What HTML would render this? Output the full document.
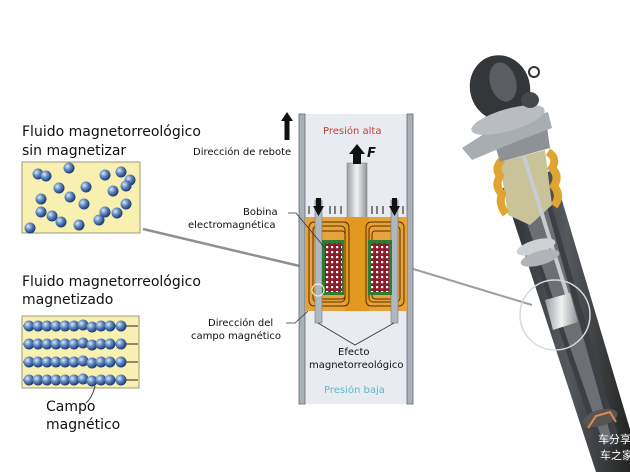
<!DOCTYPE html>
<html><head><meta charset="utf-8"><style>
html,body{margin:0;padding:0;background:#fff}
body{width:630px;height:472px;overflow:hidden;position:relative;font-family:"DejaVu Sans","Liberation Sans",sans-serif}
.t{position:absolute;white-space:nowrap;color:#111}
.big{font-size:14px;line-height:17px}
.sm{font-size:10px;line-height:13px}
</style></head><body>
<svg width="630" height="472" style="position:absolute;left:0;top:0">
<defs>
<radialGradient id="ball" cx="35%" cy="35%" r="65%"><stop offset="0" stop-color="#dfe9f7"/><stop offset="0.5" stop-color="#5d86c0"/><stop offset="1" stop-color="#1d3d70"/></radialGradient>
<pattern id="chk" width="5" height="5" patternUnits="userSpaceOnUse"><rect width="5" height="5" fill="#8a1c2c"/><rect x="1" y="1" width="2.2" height="2.2" fill="#fff"/></pattern>
<linearGradient id="tube" x1="0" y1="0" x2="1" y2="0"><stop offset="0" stop-color="#2b2e31"/><stop offset="0.5" stop-color="#55595d"/><stop offset="1" stop-color="#222"/></linearGradient>
<linearGradient id="cyl" x1="0" y1="0" x2="1" y2="0"><stop offset="0" stop-color="#9a9ea2"/><stop offset="0.5" stop-color="#f2f2f2"/><stop offset="1" stop-color="#8f9296"/></linearGradient>
</defs>
<line x1="143" y1="229" x2="308" y2="268" stroke="#8a9096" stroke-width="2.5"/>
<line x1="410" y1="268" x2="532" y2="305" stroke="#9aa0a6" stroke-width="2"/>
<rect x="22" y="162" width="118" height="71" fill="#f8f0b0" stroke="#9a9a7a"/>
<g fill="url(#ball)">
<circle cx="38" cy="174" r="5.5"/><circle cx="46" cy="176" r="5.5"/><circle cx="69" cy="168" r="5.5"/><circle cx="105" cy="175" r="5.5"/><circle cx="121" cy="172" r="5.5"/><circle cx="130" cy="180" r="5.5"/><circle cx="126" cy="186" r="5.5"/>
<circle cx="59" cy="188" r="5.5"/><circle cx="86" cy="187" r="5.5"/><circle cx="113" cy="191" r="5.5"/><circle cx="70" cy="197" r="5.5"/><circle cx="41" cy="199" r="5.5"/><circle cx="84" cy="204" r="5.5"/><circle cx="126" cy="204" r="5.5"/>
<circle cx="41" cy="212" r="5.5"/><circle cx="52" cy="216" r="5.5"/><circle cx="61" cy="222" r="5.5"/><circle cx="105" cy="212" r="5.5"/><circle cx="117" cy="213" r="5.5"/><circle cx="99" cy="220" r="5.5"/><circle cx="79" cy="225" r="5.5"/><circle cx="30" cy="228" r="5.5"/>
</g>
<rect x="22" y="316" width="117" height="72" fill="#f8f0b0" stroke="#9a9a7a"/>
<g stroke="#222" stroke-width="1">
<line x1="23" y1="326" x2="138" y2="326"/><line x1="23" y1="344" x2="138" y2="344"/><line x1="23" y1="362" x2="138" y2="362"/><line x1="23" y1="380" x2="138" y2="380"/>
</g>
<g fill="url(#ball)">
<g id="row"><circle cx="29" cy="326" r="5.5"/><circle cx="38" cy="326" r="5.5"/><circle cx="47" cy="326" r="5.5"/><circle cx="56" cy="326" r="5.5"/><circle cx="65" cy="326" r="5.5"/><circle cx="74" cy="326" r="5.5"/><circle cx="83" cy="325" r="5.5"/><circle cx="92" cy="327" r="5.5"/><circle cx="101" cy="326" r="5.5"/><circle cx="110" cy="326" r="5.5"/><circle cx="121" cy="326" r="5.5"/></g>
<use href="#row" y="18"/><use href="#row" y="36"/><use href="#row" y="54"/>
</g>
<path d="M95 386 Q92 398 86 403" stroke="#444" fill="none"/>
<rect x="304" y="114" width="104" height="290" fill="#e8ecf0"/>
<rect x="299" y="114" width="6" height="290" fill="#a8b0b8" stroke="#667" stroke-width="0.8"/>
<rect x="407" y="114" width="6" height="290" fill="#a8b0b8" stroke="#667" stroke-width="0.8"/>
<rect x="347" y="163" width="20" height="55" fill="url(#cyl)" stroke="#888" stroke-width="0.6"/>
<polygon points="357,144 365,154 361,154 361,164 353,164 353,154 349,154" fill="#111"/>
<rect x="305" y="217" width="102" height="94" fill="#e8a23a"/>
<rect x="345" y="217" width="24" height="94" fill="#e3981f"/>
<g fill="none" stroke="#5a3000" stroke-width="1">
<rect x="309" y="222" width="40" height="84" rx="5"/><rect x="313" y="226" width="32" height="76" rx="4"/><rect x="317" y="231" width="28" height="68" rx="3"/>
<rect x="366" y="222" width="38" height="84" rx="5"/><rect x="369" y="226" width="31" height="76" rx="4"/><rect x="372" y="231" width="24" height="68" rx="3"/>
</g>
<rect x="315" y="200" width="7" height="123" fill="#aeb8c0" stroke="#778" stroke-width="0.6"/>
<rect x="391" y="200" width="7" height="123" fill="#aeb8c0" stroke="#778" stroke-width="0.6"/>
<rect x="322" y="240" width="22" height="55" fill="#2f7a35"/><rect x="325" y="243" width="17" height="49" fill="url(#chk)"/>
<rect x="368" y="240" width="24" height="55" fill="#2f7a35"/><rect x="371" y="243" width="18" height="49" fill="url(#chk)"/>
<circle cx="318" cy="290" r="6" fill="none" stroke="#f4f0d0" stroke-width="1.2"/>
<g fill="#111">
<polygon points="316,198 321,198 321,206 324,206 318.5,216 313,206 316,206"/>
<polygon points="392,198 397,198 397,206 400,206 394.5,216 389,206 392,206"/>
</g>
<g stroke="#111" stroke-width="1">
<line x1="309" y1="206" x2="309" y2="214"/><line x1="330" y1="206" x2="330" y2="214"/><line x1="335" y1="206" x2="335" y2="214"/><line x1="341" y1="206" x2="341" y2="214"/>
<line x1="372" y1="206" x2="372" y2="214"/><line x1="377" y1="206" x2="377" y2="214"/><line x1="383" y1="206" x2="383" y2="214"/><line x1="403" y1="206" x2="403" y2="214"/>
</g>
<polygon points="287,112 293,121 289.5,121 289.5,140 284.5,140 284.5,121 281,121" fill="#111"/>
<g stroke="#333" fill="none" stroke-width="0.8">
<path d="M288 213 L296 213 L325 248"/>
<path d="M286 323 L295 323 L308 311"/>
<path d="M318 323 L355 345 L394 323"/>
</g>
<!-- shock absorber -->
<polygon points="503,188 553,170 632,436 632,472 596,472" fill="url(#tube)"/>
<polygon points="514,196 546,186 620,442 600,452" fill="#3c4044"/>
<polygon points="519,200 543,193 612,440 604,445" fill="#8c9094" opacity="0.6"/>
<polygon points="508,215 500,162 545,150 552,205 530,225" fill="#c9c39a"/>
<path d="M502 160 q-8 8 -2 16 q-6 10 2 18 q-4 10 4 20 M548 152 q10 6 4 16 q8 8 2 18 q8 10 0 20" stroke="#e0a530" stroke-width="8" fill="none"/>
<line x1="522" y1="150" x2="575" y2="320" stroke="#c8cbd0" stroke-width="4"/>
<ellipse cx="536" cy="247" rx="20" ry="7" fill="#cfd2d4" transform="rotate(-16 536 247)"/>
<ellipse cx="540" cy="258" rx="20" ry="7" fill="#b0b4b8" transform="rotate(-16 540 258)"/>
<polygon points="545,300 570,293 578,322 553,330" fill="url(#cyl)"/>
<circle cx="555" cy="315" r="35" fill="none" stroke="#d6d9dc" stroke-width="1.5"/>
<ellipse cx="600" cy="418" rx="18" ry="8" fill="#555" transform="rotate(-16 600 418)"/>
<path d="M588 428 l8 -12 l14 -4 l6 10" stroke="#e08a50" stroke-width="2" fill="none"/>
<polygon points="490,128 545,113 550,148 500,162" fill="#8e9297"/>
<polygon points="462,148 498,125 548,112 552,128 515,142 472,160" fill="#a8adb2"/>
<ellipse cx="500" cy="88" rx="30" ry="33" fill="#33373a" transform="rotate(-16 500 88)"/>
<ellipse cx="503" cy="82" rx="13" ry="20" fill="#5a5e62" transform="rotate(-16 503 82)"/>
<ellipse cx="508" cy="120" rx="38" ry="11" fill="#b9bdc1" transform="rotate(-16 508 120)"/>
<ellipse cx="530" cy="100" rx="9" ry="8" fill="#44484c"/>
<circle cx="534" cy="72" r="5" fill="none" stroke="#333" stroke-width="2"/>
</svg>
<div class="t big" style="left:22px;top:124px">Fluido magnetorreológico</div>
<div class="t big" style="left:22px;top:143px">sin magnetizar</div>
<div class="t big" style="left:22px;top:274px">Fluido magnetorreológico</div>
<div class="t big" style="left:22px;top:292px">magnetizado</div>
<div class="t big" style="left:46px;top:399px">Campo</div>
<div class="t big" style="left:46px;top:417px">magnético</div>
<div class="t sm" style="left:193px;top:146px">Dirección de rebote</div>
<div class="t sm" style="left:243px;top:206px">Bobina</div>
<div class="t sm" style="left:188px;top:219px">electromagnética</div>
<div class="t sm" style="left:208px;top:317px">Dirección del</div>
<div class="t sm" style="left:191px;top:330px">campo magnético</div>
<div class="t sm" style="left:323px;top:125px;color:#c0403a">Presión alta</div>
<div class="t sm" style="left:324px;top:384px;color:#5fb8c8">Presión baja</div>
<div class="t sm" style="left:338px;top:346px">Efecto</div>
<div class="t sm" style="left:309px;top:359px">magnetorreológico</div>
<div class="t" style="left:367px;top:146px;font-size:13px;font-weight:bold;font-style:italic">F</div>
<div class="t" style="left:598px;top:431px;font-size:11px;color:#fff;font-family:'Liberation Sans','Noto Sans CJK SC',sans-serif">车分享</div>
<div class="t" style="left:600px;top:447px;font-size:11px;color:#fff;font-family:'Liberation Sans','Noto Sans CJK SC',sans-serif">车之家</div>
</body></html>
